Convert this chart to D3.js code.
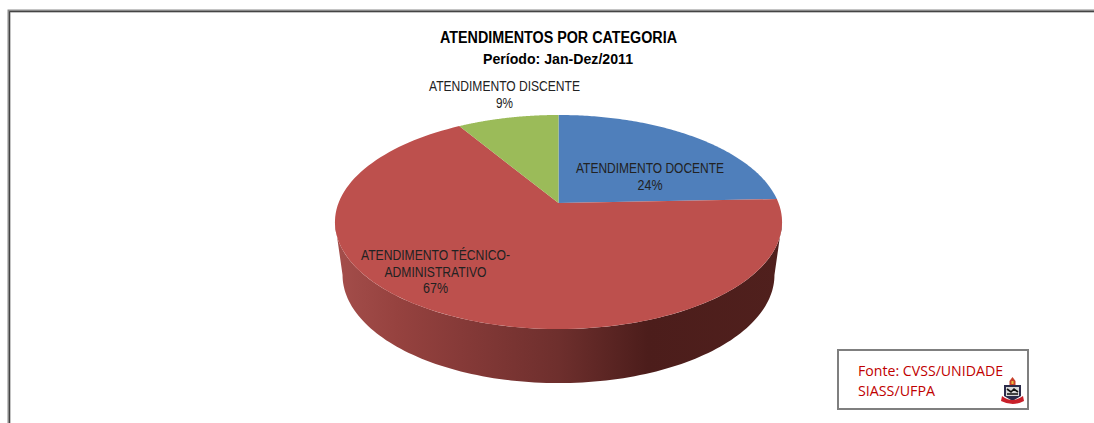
<!DOCTYPE html>
<html><head><meta charset="utf-8">
<script src="https://cdn.jsdelivr.net/npm/d3@7"></script>
<style>html,body{margin:0;padding:0;background:#fff}svg{display:block}text{font-family:"Liberation Sans",Arial,sans-serif}</style>
</head><body><svg id="c" width="1094" height="423"></svg>
<script>
const categories = ["ATENDIMENTO DOCENTE","ATENDIMENTO TÉCNICO-ADMINISTRATIVO","ATENDIMENTO DISCENTE"];
const values = [24.4, 66.9, 8.7];
const colors = ["#4f7fbb","#bd504d","#9bbb59"];
const titleLines = ["ATENDIMENTOS POR CATEGORIA","Período: Jan-Dez/2011"];
const sourceLines = ["Fonte: CVSS/UNIDADE","SIASS/UFPA"];

const svg = d3.select("#c");
const W=1094,H=423;

// frame
svg.append("rect").attr("x",9).attr("y",11).attr("width",W).attr("height",H).attr("fill","none").attr("stroke","#8a8a8a").attr("stroke-width",3);
svg.append("path").attr("d","M9.5 "+H+"V11.5H"+W).attr("fill","none").attr("stroke","#444").attr("stroke-width",1);

// perspective projection of the unit pie disc
const cx=558.5, apexY=203, persp=0.1776, slope=67.6, R=220;
const top3d = a=>{ const u=Math.sin(a), v=Math.cos(a), w=1+persp*v; return [cx+R*u/w,(apexY-slope*v)/w]; };
const widestY=222, lowerY=275, lowerX=0.966, lowerYs=1.01;
const bottom3d = a=>{ const p=top3d(a); return [cx+(p[0]-cx)*lowerX, lowerY+(p[1]-widestY)*lowerYs]; };
const line=d3.line();
const sample=(a0,a1,f,n=120)=>d3.range(n+1).map(i=>f(a0+(a1-a0)*i/n));

// side wall
const defs=svg.append("defs");
const grad=defs.append("linearGradient").attr("id","side").attr("gradientUnits","userSpaceOnUse")
  .attr("x1",335).attr("x2",782).attr("y1",0).attr("y2",0);
[[0,"#a44e4b"],[0.14,"#96423f"],[0.3,"#843937"],[0.5,"#6e2f2d"],[0.7,"#4c1d1b"],[1,"#50201d"]]
  .forEach(s=>grad.append("stop").attr("offset",s[0]).attr("stop-color",s[1]));
const tang=Math.acos(-persp);
const sidePts=sample(tang,2*Math.PI-tang,top3d).concat(sample(2*Math.PI-tang,tang,bottom3d));
svg.append("path").attr("d",line(sidePts)+"Z").attr("fill","url(#side)");

// top slices
const pie=d3.pie().sort(null).value(d=>d)(values);
svg.selectAll("path.slice").data(pie).join("path").attr("class","slice")
  .attr("d",d=>line([[cx,apexY]].concat(sample(d.startAngle,d.endAngle,top3d)))+"Z")
  .attr("fill",(d,i)=>colors[i]);

const fitted=(sel,len)=>sel.attr("textLength",len).attr("lengthAdjust","spacingAndGlyphs");

// title
const title=svg.append("g").attr("fill","#000").attr("font-weight","bold").attr("text-anchor","middle");
fitted(title.append("text").attr("x",558.5).attr("y",43).attr("font-size",16).text(titleLines[0]),237);
fitted(title.append("text").attr("x",558).attr("y",64).attr("font-size",15).text(titleLines[1]),150);

// data labels
const fmt=v=>d3.format(".0f")(v)+"%";
const labelGroups=[
 {x:650,y:[173,190],t:[categories[0],fmt(values[0])],w:[148,25]},
 {x:435.5,y:[260,277,293],t:["ATENDIMENTO TÉCNICO-","ADMINISTRATIVO",fmt(values[1])],w:[149,102,25]},
 {x:504.5,y:[91,108],t:[categories[2],fmt(values[2])],w:[151,17]}
];
labelGroups.forEach(g=>g.t.forEach((s,i)=>fitted(svg.append("text").attr("x",g.x).attr("y",g.y[i]).attr("text-anchor","middle")
  .attr("font-size",14).attr("fill","#222").text(s),g.w[i])));

// source box
svg.append("rect").attr("x",838).attr("y",350).attr("width",190).attr("height",59).attr("fill","#fff").attr("stroke","#7f7f7f").attr("stroke-width",2);
sourceLines.forEach((s,i)=>fitted(svg.append("text").attr("x",858).attr("y",[376,396][i]).attr("font-size",14).attr("fill","#c00000")
  .style("font-family","'Open Sans',sans-serif").text(s),[145,77][i]));

// crest
const cr=svg.append("g");
cr.append("path").attr("d","M1012.5 377 l3 4 v4 h-6 v-4z").attr("fill","#c8402a");
cr.append("path").attr("d","M1011.5 381 h2 v3 h-2z").attr("fill","#e8c040");
cr.append("path").attr("d","M1004 385 h17 v11 l-8.5 5 l-8.5 -5z").attr("fill","#2b2b4a");
cr.append("rect").attr("x",1006).attr("y",387).attr("width",13).attr("height",9).attr("fill","#d9d9d9");
cr.append("path").attr("d","M1007 389 l4 3 l3 -3 l4 3 M1007 394 h11").attr("fill","none").attr("stroke","#111").attr("stroke-width",1.6);
cr.append("path").attr("d","M1002 396 q10 8 21 0 l1 5 q-11 6 -23 0z").attr("fill","#c8202a");
</script></body></html>
